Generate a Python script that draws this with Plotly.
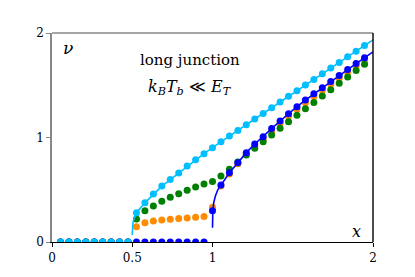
import plotly.graph_objects as go

# x grid of the simulated points
x_pts = [i / 19 for i in range(1, 38)]

cyan_pts = [0.0] * 9 + [0.28, 0.375, 0.46, 0.535, 0.598, 0.66, 0.727, 0.788, 0.845,
                        0.903, 0.96, 1.014, 1.068, 1.122, 1.176, 1.23, 1.285, 1.34,
                        1.394, 1.448, 1.502, 1.556, 1.61, 1.664, 1.718, 1.772, 1.826, 1.88]
green_pts = [0.0] * 9 + [0.22, 0.30, 0.345, 0.39, 0.428, 0.462, 0.495, 0.527, 0.555,
                         0.58, 0.632, 0.697, 0.765, 0.832, 0.896, 0.96, 1.024, 1.088,
                         1.15, 1.212, 1.274, 1.336, 1.397, 1.458, 1.519, 1.58, 1.641, 1.702]
orange_pts = [0.0] * 9 + [0.146, 0.185, 0.201, 0.211, 0.217, 0.225, 0.23, 0.236, 0.245,
                          0.332, 0.535, 0.65, 0.75, 0.84, 0.915, 0.985, 1.06, 1.133,
                          1.203, 1.27, 1.333, 1.393, 1.452, 1.51, 1.568, 1.625, 1.682, 1.739]
blue_pts = [0.0] * 18 + [0.30, 0.545, 0.663, 0.759, 0.855, 0.938, 1.008, 1.085, 1.158,
                         1.228, 1.295, 1.358, 1.418, 1.477, 1.535, 1.593, 1.65, 1.707, 1.764]

# theory curves
cyan_line_x = [0.5, 0.501, 0.504, 0.51, 0.518] + x_pts[9:] + [2.0]
cyan_line_y = [0.067, 0.13, 0.18, 0.22, 0.255] + cyan_pts[9:] + [1.935]
blue_line_x = [1.0, 1.0005, 1.002, 1.008, 1.018, 1.033] + x_pts[19:] + [2.0]
blue_line_y = [0.137, 0.22, 0.30, 0.38, 0.44, 0.50] + blue_pts[19:] + [1.82]

x_ticks = [0, 0.5, 1, 2]
x_tick_text = ["0", "0.5", "1", "2"]
y_ticks = [0, 1, 2]
y_tick_text = ["0", "1", "2"]

CYAN = "#00BFFF"
GREEN = "#008000"
ORANGE = "#FF8C00"
BLUE = "#0000FF"
SERIF = "DejaVu Serif"

fig = go.Figure()
ms = 7
fig.add_trace(go.Scatter(x=x_pts, y=orange_pts, mode="markers",
                         marker=dict(color=ORANGE, size=ms), showlegend=False))
fig.add_trace(go.Scatter(x=x_pts, y=green_pts, mode="markers",
                         marker=dict(color=GREEN, size=ms), showlegend=False))
fig.add_trace(go.Scatter(x=x_pts, y=blue_pts, mode="markers",
                         marker=dict(color=BLUE, size=ms), showlegend=False))
fig.add_trace(go.Scatter(x=x_pts, y=cyan_pts, mode="markers",
                         marker=dict(color=CYAN, size=ms), showlegend=False))
fig.add_trace(go.Scatter(x=cyan_line_x, y=cyan_line_y, mode="lines",
                         line=dict(color=CYAN, width=1.6), showlegend=False))
fig.add_trace(go.Scatter(x=blue_line_x, y=blue_line_y, mode="lines",
                         line=dict(color=BLUE, width=1.6), showlegend=False))

fig.add_annotation(x=0.1, y=1.86, text="<i>ν</i>", showarrow=False,
                   font=dict(family=SERIF, size=17, color="black"))
fig.add_annotation(x=0.86, y=1.74, text="long junction", showarrow=False,
                   font=dict(family=SERIF, size=15, color="black"))
fig.add_annotation(x=0.86, y=1.48,
                   text="<i>k</i><sub><i>B</i></sub><i>T</i><sub><i>b</i></sub> ≪ <i>E</i><sub><i>T</i></sub>",
                   showarrow=False, font=dict(family=SERIF, size=16, color="black"))
fig.add_annotation(x=1.9, y=0.105, text="<i>x</i>", showarrow=False,
                   font=dict(family=SERIF, size=16, color="black"))

# top (gray) and right (black) frame lines
fig.add_shape(type="line", xref="paper", yref="paper", x0=0, x1=1, y0=1, y1=1,
              line=dict(color="#888888", width=1.6))
fig.add_shape(type="line", xref="paper", yref="paper", x0=1, x1=1, y0=0, y1=1,
              line=dict(color="black", width=1.4))

# page body has an 8px offset; compensate in the margins
fig.update_layout(
    width=407, height=269,
    margin=dict(l=44, r=42, t=25, b=35, autoexpand=False),
    paper_bgcolor="white", plot_bgcolor="white",
    font=dict(family=SERIF),
    xaxis=dict(range=[0, 2], tickvals=x_ticks, ticktext=x_tick_text,
               showgrid=False, zeroline=False, showline=True, linecolor="black",
               linewidth=1.4, ticks="outside", ticklen=4, tickcolor="black",
               automargin=False,
               tickfont=dict(family=SERIF, size=12, color="black")),
    yaxis=dict(range=[0, 2], tickvals=y_ticks, ticktext=y_tick_text,
               showgrid=False, zeroline=False, showline=True, linecolor="#888888",
               linewidth=1.6, ticks="outside", ticklen=4, tickcolor="#888888",
               automargin=False,
               tickfont=dict(family=SERIF, size=12, color="black")),
)

fig.write_html("out.html")
